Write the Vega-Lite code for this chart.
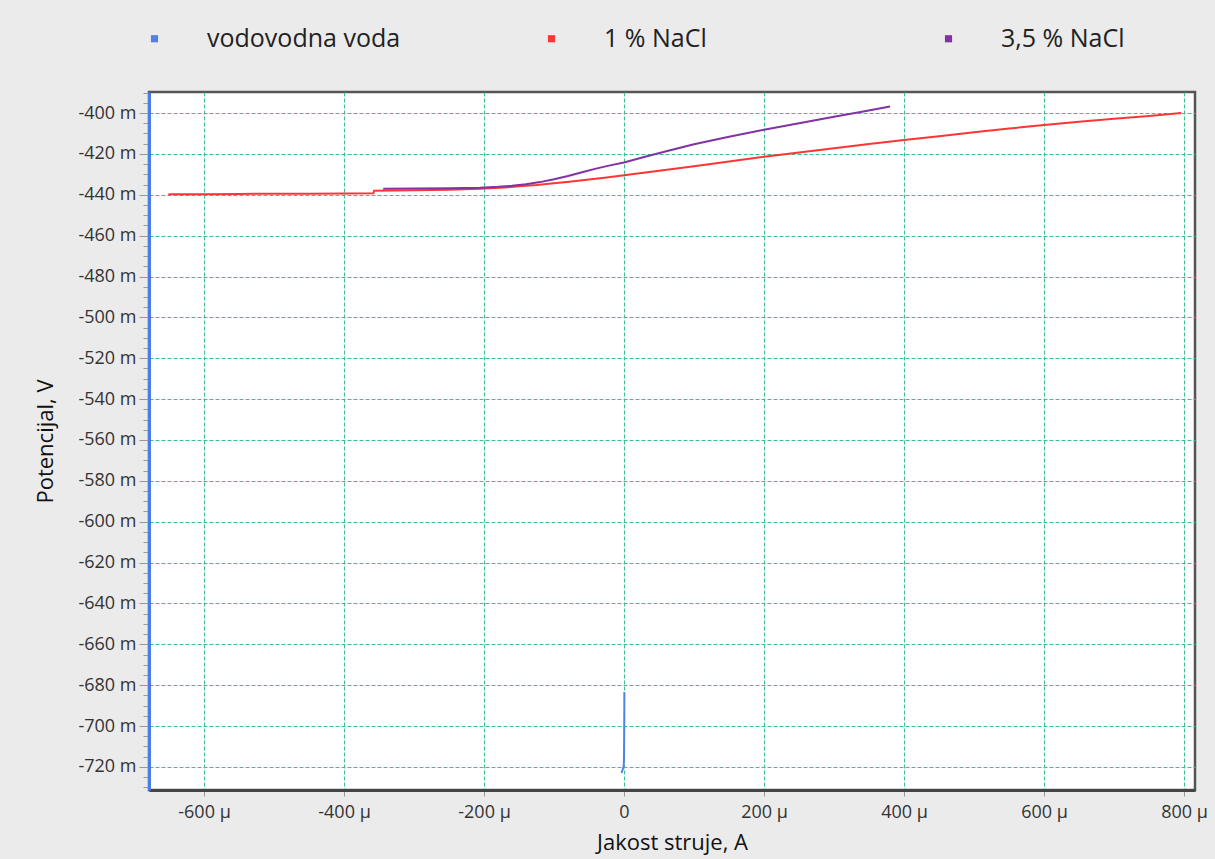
{
  "$schema": "https://vega.github.io/schema/vega-lite/v6.json",
  "autosize": {"type": "none"},
  "padding": {"left": 149, "top": 92, "right": 20, "bottom": 69},
  "width": 1046,
  "height": 698,
  "background": "#ebebeb",
  "config": {
    "view": {"fill": "white", "stroke": "#555555", "strokeWidth": 2.5},
    "font": "Open Sans"
  },
  "data": {
    "values": [
      {"series": "1 % NaCl", "i": 1, "current_uA": -651, "potential_mV": -439.8},
      {"series": "1 % NaCl", "i": 2, "current_uA": -600, "potential_mV": -439.7},
      {"series": "1 % NaCl", "i": 3, "current_uA": -550, "potential_mV": -439.6},
      {"series": "1 % NaCl", "i": 4, "current_uA": -500, "potential_mV": -439.5},
      {"series": "1 % NaCl", "i": 5, "current_uA": -450, "potential_mV": -439.5},
      {"series": "1 % NaCl", "i": 6, "current_uA": -400, "potential_mV": -439.4},
      {"series": "1 % NaCl", "i": 7, "current_uA": -358, "potential_mV": -439.3},
      {"series": "1 % NaCl", "i": 8, "current_uA": -357, "potential_mV": -438.0},
      {"series": "1 % NaCl", "i": 9, "current_uA": -300, "potential_mV": -437.8},
      {"series": "1 % NaCl", "i": 10, "current_uA": -250, "potential_mV": -437.5},
      {"series": "1 % NaCl", "i": 11, "current_uA": -206, "potential_mV": -437.0},
      {"series": "1 % NaCl", "i": 12, "current_uA": -170, "potential_mV": -436.4},
      {"series": "1 % NaCl", "i": 13, "current_uA": -150, "potential_mV": -435.8},
      {"series": "1 % NaCl", "i": 14, "current_uA": -125, "potential_mV": -435.2},
      {"series": "1 % NaCl", "i": 15, "current_uA": -100, "potential_mV": -434.4},
      {"series": "1 % NaCl", "i": 16, "current_uA": -75, "potential_mV": -433.5},
      {"series": "1 % NaCl", "i": 17, "current_uA": -50, "potential_mV": -432.5},
      {"series": "1 % NaCl", "i": 18, "current_uA": -25, "potential_mV": -431.5},
      {"series": "1 % NaCl", "i": 19, "current_uA": 0, "potential_mV": -430.5},
      {"series": "1 % NaCl", "i": 20, "current_uA": 50, "potential_mV": -428.2},
      {"series": "1 % NaCl", "i": 21, "current_uA": 100, "potential_mV": -426.0},
      {"series": "1 % NaCl", "i": 22, "current_uA": 150, "potential_mV": -423.7},
      {"series": "1 % NaCl", "i": 23, "current_uA": 200, "potential_mV": -421.4},
      {"series": "1 % NaCl", "i": 24, "current_uA": 250, "potential_mV": -419.3},
      {"series": "1 % NaCl", "i": 25, "current_uA": 300, "potential_mV": -417.2},
      {"series": "1 % NaCl", "i": 26, "current_uA": 350, "potential_mV": -415.2},
      {"series": "1 % NaCl", "i": 27, "current_uA": 400, "potential_mV": -413.2},
      {"series": "1 % NaCl", "i": 28, "current_uA": 450, "potential_mV": -411.3},
      {"series": "1 % NaCl", "i": 29, "current_uA": 500, "potential_mV": -409.4},
      {"series": "1 % NaCl", "i": 30, "current_uA": 550, "potential_mV": -407.6},
      {"series": "1 % NaCl", "i": 31, "current_uA": 600, "potential_mV": -405.8},
      {"series": "1 % NaCl", "i": 32, "current_uA": 650, "potential_mV": -404.3},
      {"series": "1 % NaCl", "i": 33, "current_uA": 700, "potential_mV": -402.8},
      {"series": "1 % NaCl", "i": 34, "current_uA": 750, "potential_mV": -401.4},
      {"series": "1 % NaCl", "i": 35, "current_uA": 796, "potential_mV": -400.0},
      {"series": "3,5 % NaCl", "i": 1, "current_uA": -344, "potential_mV": -437.0},
      {"series": "3,5 % NaCl", "i": 2, "current_uA": -300, "potential_mV": -436.9},
      {"series": "3,5 % NaCl", "i": 3, "current_uA": -250, "potential_mV": -436.8},
      {"series": "3,5 % NaCl", "i": 4, "current_uA": -206, "potential_mV": -436.5},
      {"series": "3,5 % NaCl", "i": 5, "current_uA": -180, "potential_mV": -436.1},
      {"series": "3,5 % NaCl", "i": 6, "current_uA": -160, "potential_mV": -435.6},
      {"series": "3,5 % NaCl", "i": 7, "current_uA": -140, "potential_mV": -434.9},
      {"series": "3,5 % NaCl", "i": 8, "current_uA": -120, "potential_mV": -433.8},
      {"series": "3,5 % NaCl", "i": 9, "current_uA": -100, "potential_mV": -432.4},
      {"series": "3,5 % NaCl", "i": 10, "current_uA": -80, "potential_mV": -430.8},
      {"series": "3,5 % NaCl", "i": 11, "current_uA": -60, "potential_mV": -429.0},
      {"series": "3,5 % NaCl", "i": 12, "current_uA": -40, "potential_mV": -427.2},
      {"series": "3,5 % NaCl", "i": 13, "current_uA": -20, "potential_mV": -425.6},
      {"series": "3,5 % NaCl", "i": 14, "current_uA": 0, "potential_mV": -424.2},
      {"series": "3,5 % NaCl", "i": 15, "current_uA": 30, "potential_mV": -421.4},
      {"series": "3,5 % NaCl", "i": 16, "current_uA": 66, "potential_mV": -418.2},
      {"series": "3,5 % NaCl", "i": 17, "current_uA": 100, "potential_mV": -415.3},
      {"series": "3,5 % NaCl", "i": 18, "current_uA": 150, "potential_mV": -411.6},
      {"series": "3,5 % NaCl", "i": 19, "current_uA": 200, "potential_mV": -408.2},
      {"series": "3,5 % NaCl", "i": 20, "current_uA": 250, "potential_mV": -405.0},
      {"series": "3,5 % NaCl", "i": 21, "current_uA": 300, "potential_mV": -401.8},
      {"series": "3,5 % NaCl", "i": 22, "current_uA": 340, "potential_mV": -399.4},
      {"series": "3,5 % NaCl", "i": 23, "current_uA": 380, "potential_mV": -396.8},
      {"series": "vodovodna voda", "i": 1, "current_uA": 0.5, "potential_mV": -683.4},
      {"series": "vodovodna voda", "i": 2, "current_uA": 0.4, "potential_mV": -695.0},
      {"series": "vodovodna voda", "i": 3, "current_uA": 0.2, "potential_mV": -705.0},
      {"series": "vodovodna voda", "i": 4, "current_uA": 0.0, "potential_mV": -715.0},
      {"series": "vodovodna voda", "i": 5, "current_uA": -0.5, "potential_mV": -719.8},
      {"series": "vodovodna voda", "i": 6, "current_uA": -3.5, "potential_mV": -723.0}
    ]
  },
  "mark": {"type": "line", "strokeWidth": 2, "clip": true},
  "encoding": {
    "x": {
      "field": "current_uA",
      "type": "quantitative",
      "scale": {"domain": [-678.6, 815.7], "nice": false, "zero": false},
      "axis": {
        "title": "Jakost struje, A",
        "values": [-600, -400, -200, 0, 200, 400, 600, 800],
        "labelExpr": "datum.value == 0 ? '0' : datum.value + ' µ'",
        "grid": true,
        "gridColor": "#3fbf8f",
        "gridDash": [4, 2],
        "gridWidth": 1,
        "domainColor": "#444444",
        "domainWidth": 3,
        "tickColor": "#999999",
        "tickSize": 6,
        "labelFont": "Open Sans",
        "labelFontSize": 18,
        "labelColor": "#333333",
        "labelPadding": 7,
        "titleFont": "Open Sans",
        "titleFontSize": 22,
        "titleFontWeight": "normal",
        "titleColor": "#111111",
        "titlePadding": 11
      }
    },
    "y": {
      "field": "potential_mV",
      "type": "quantitative",
      "scale": {"domain": [-731.3, -389.7], "nice": false, "zero": false},
      "axis": {
        "title": "Potencijal, V",
        "values": [-730, -725, -720, -715, -710, -705, -700, -695, -690, -685, -680, -675, -670, -665, -660, -655, -650, -645, -640, -635, -630, -625, -620, -615, -610, -605, -600, -595, -590, -585, -580, -575, -570, -565, -560, -555, -550, -545, -540, -535, -530, -525, -520, -515, -510, -505, -500, -495, -490, -485, -480, -475, -470, -465, -460, -455, -450, -445, -440, -435, -430, -425, -420, -415, -410, -405, -400, -395, -390],
        "labelExpr": "datum.value % 20 == 0 ? datum.value + ' m' : ''",
        "grid": true,
        "gridColor": "#3fbf8f",
        "gridDash": [4, 2],
        "gridWidth": 1,
        "gridOpacity": {"condition": {"test": "datum.value % 20 == 0", "value": 1}, "value": 0},
        "tickSize": {"condition": {"test": "datum.value % 20 == 0", "value": 10}, "value": 6},
        "tickColor": "#999999",
        "domainColor": "#4a7de8",
        "domainWidth": 3,
        "labelFont": "Open Sans",
        "labelFontSize": 18,
        "labelColor": "#333333",
        "labelPadding": 3,
        "labelOverlap": false,
        "titleFont": "Open Sans",
        "titleFontSize": 22,
        "titleFontWeight": "normal",
        "titleColor": "#111111",
        "titlePadding": 20
      }
    },
    "color": {
      "field": "series",
      "type": "nominal",
      "scale": {
        "domain": ["vodovodna voda", "1 % NaCl", "3,5 % NaCl"],
        "range": ["#4f82e2", "#ff3535", "#8332a6"]
      },
      "legend": {
        "orient": "none",
        "legendX": -7,
        "legendY": -66,
        "direction": "horizontal",
        "columns": 3,
        "gridAlign": "all",
        "title": null,
        "symbolType": "square",
        "symbolSize": 10,
        "symbolStrokeWidth": 4,
        "labelFont": "Open Sans",
        "labelFontSize": 25,
        "labelColor": "#222222",
        "labelOffset": 40,
        "columnPadding": 138,
        "labelLimit": 400
      }
    },
    "order": {"field": "i", "type": "quantitative"}
  }
}
